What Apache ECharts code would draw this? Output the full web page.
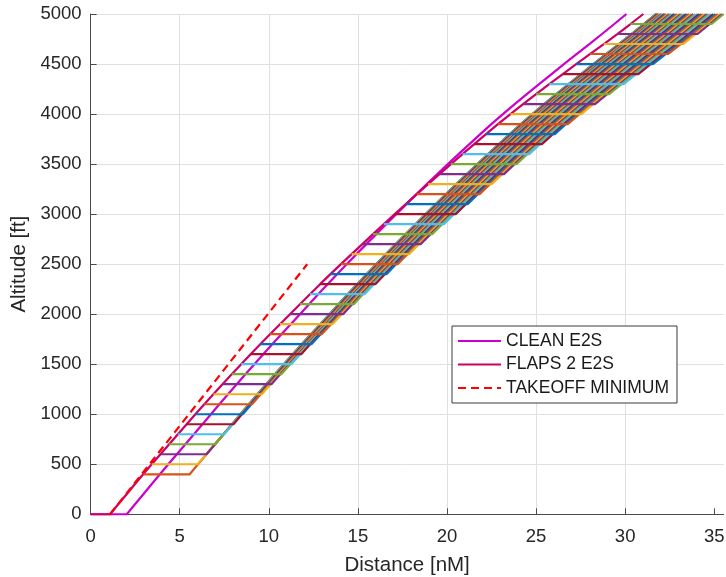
<!DOCTYPE html>
<html>
<head>
<meta charset="utf-8">
<script src="https://cdn.jsdelivr.net/npm/echarts@6/dist/echarts.min.js"></script>
<style>
  html, body { margin: 0; padding: 0; background: #fff; }
  #chart { width: 726px; height: 577px; }
</style>
</head>
<body>
<div id="chart"></div>
<script>
// Altitude steps of the climb profiles [ft]
const climbAlt = [
  0, 100, 200, 300, 400, 500, 600, 700, 800, 900,
  1000, 1100, 1200, 1300, 1400, 1500, 1600, 1700, 1800, 1900,
  2000, 2100, 2200, 2300, 2400, 2500, 2600, 2700, 2800, 2900,
  3000, 3100, 3200, 3300, 3400, 3500, 3600, 3700, 3800, 3900,
  4000, 4100, 4200, 4300, 4400, 4500, 4600, 4700, 4800, 4900,
  5000
];

// FLAPS 2 engine-to-speed climb: distance [nM] at each altitude step
const flapsDist = [
  1.09, 1.55, 2.02, 2.48, 2.95, 3.43, 3.92, 4.41, 4.90, 5.39,
  5.88, 6.38, 6.89, 7.40, 7.92, 8.45, 8.98, 9.52, 10.07, 10.63,
  11.19, 11.75, 12.31, 12.88, 13.46, 14.05, 14.65, 15.25, 15.85, 16.46,
  17.07, 17.69, 18.31, 18.94, 19.58, 20.22, 20.87, 21.53, 22.19, 22.86,
  23.56, 24.27, 25.00, 25.74, 26.50, 27.25, 28.02, 28.80, 29.56, 30.30,
  31.02
];

// CLEAN engine-to-speed climb: distance [nM] at each altitude step
const cleanDist = [
  2.03, 2.49, 2.96, 3.42, 3.89, 4.36, 4.84, 5.32, 5.80, 6.28,
  6.75, 7.23, 7.71, 8.20, 8.69, 9.19, 9.69, 10.19, 10.71, 11.23,
  11.75, 12.26, 12.77, 13.30, 13.83, 14.37, 14.92, 15.47, 16.03, 16.59,
  17.15, 17.72, 18.29, 18.87, 19.46, 20.05, 20.65, 21.26, 21.87, 22.49,
  23.14, 23.80, 24.48, 25.17, 25.87, 26.56, 27.27, 27.99, 28.70, 29.39,
  30.07
];

// Level acceleration segments: altitude [ft] and distance where acceleration ends [nM]
const accelAlt = [
  400, 500, 600, 700, 800, 900, 1000, 1100, 1200, 1300,
  1400, 1500, 1600, 1700, 1800, 1900, 2000, 2100, 2200, 2300,
  2400, 2500, 2600, 2700, 2800, 2900, 3000, 3100, 3200, 3300,
  3400, 3500, 3600, 3700, 3800, 3900, 4000, 4100, 4200, 4300,
  4400, 4500, 4600, 4700, 4800, 4900
];
const accelEnd = [
  5.56, 6.01, 6.50, 6.99, 7.50, 8.02, 8.54, 9.06, 9.61, 10.15,
  10.70, 11.26, 11.82, 12.39, 12.97, 13.57, 14.17, 14.77, 15.37, 15.98,
  16.60, 17.23, 17.87, 18.52, 19.17, 19.83, 20.49, 21.16, 21.83, 22.51,
  23.20, 23.90, 24.61, 25.33, 26.05, 26.78, 27.54, 28.31, 29.10, 29.91,
  30.74, 31.56, 32.40, 33.25, 34.06, 34.85
];

// Takeoff minimum gradient line
const takeoffDist = [1.09, 12.16];
const takeoffAlt = [0, 2500];

// Axis ticks
const xTicks = [0, 5, 10, 15, 20, 25, 30, 35];
const yTicks = [0, 500, 1000, 1500, 2000, 2500, 3000, 3500, 4000, 4500, 5000];

// Default line colour order
const colorOrder = ['#0072BD', '#D95319', '#EDB120', '#7E2F8E', '#77AC30', '#4DBEEE', '#A2142F'];

const FONT = "'Liberation Sans', Arial, Helvetica, sans-serif";
const lineW = 2.2;

const series = [];

// Clean climb, starting with the ground roll
series.push({
  name: 'CLEAN E2S',
  type: 'line',
  data: [[0, 0]].concat(climbAlt.map((a, i) => [cleanDist[i], a])),
  showSymbol: false, symbol: 'none',
  lineStyle: { color: '#CC00CC', width: lineW },
  itemStyle: { color: '#CC00CC' },
  z: 2
});

// Flaps 2 climb, starting with the ground roll
series.push({
  name: 'FLAPS 2 E2S',
  type: 'line',
  data: [[0, 0]].concat(climbAlt.map((a, i) => [flapsDist[i], a])),
  showSymbol: false, symbol: 'none',
  lineStyle: { color: '#CC0066', width: lineW },
  itemStyle: { color: '#CC0066' },
  z: 2
});

// Each path: level off on the flaps profile, accelerate, then climb clean
accelAlt.forEach((h, k) => {
  const i = climbAlt.indexOf(h);
  const pts = [[flapsDist[i], h], [accelEnd[k], h]];
  for (let j = i + 1; j < climbAlt.length; j++) {
    pts.push([accelEnd[k] + cleanDist[j] - cleanDist[i], climbAlt[j]]);
  }
  const c = colorOrder[(h / 100 - 3) % colorOrder.length];
  series.push({
    name: 'accel ' + h,
    type: 'line',
    data: pts,
    showSymbol: false, symbol: 'none',
    lineStyle: { color: c, width: lineW },
    itemStyle: { color: c },
    z: 2
  });
});

series.push({
  name: 'TAKEOFF MINIMUM',
  type: 'line',
  data: takeoffDist.map((d, i) => [d, takeoffAlt[i]]),
  showSymbol: false, symbol: 'none',
  lineStyle: { color: '#FF0000', width: lineW, type: [8, 5] },
  itemStyle: { color: '#FF0000' },
  z: 3
});

const axisColor = '#4a4a4a';
const gridColor = '#e0e0e0';
const textColor = '#262626';

const chart = echarts.init(document.getElementById('chart'), null, { renderer: 'canvas' });
chart.setOption({
  animation: false,
  backgroundColor: '#ffffff',
  textStyle: { fontFamily: FONT },
  grid: { left: 90.6, right: 2.3, top: 14, bottom: 62.7, containLabel: false, outerBoundsMode: 'none' },
  legend: {
    data: ['CLEAN E2S', 'FLAPS 2 E2S', 'TAKEOFF MINIMUM'],
    orient: 'vertical',
    left: 452, top: 326,
    padding: [5, 8, 5, 5],
    itemGap: 3.5,
    itemWidth: 43, itemHeight: 14,
    backgroundColor: '#ffffff',
    borderColor: '#3a3a3a', borderWidth: 1, borderRadius: 0,
    selectedMode: false,
    itemStyle: { opacity: 0 },
    textStyle: { fontFamily: FONT, fontSize: 17.5, lineHeight: 20, color: '#1a1a1a' }
  },
  xAxis: {
    type: 'value',
    min: 0, max: 35.53,
    name: 'Distance [nM]',
    nameLocation: 'middle', nameGap: 40.5,
    nameTextStyle: { fontFamily: FONT, fontSize: 20.5, color: textColor },
    axisLine: { show: true, onZero: false, lineStyle: { color: axisColor, width: 1 } },
    axisTick: { show: true, inside: true, length: 6, customValues: xTicks, lineStyle: { color: axisColor } },
    axisLabel: { customValues: xTicks, margin: 13, fontFamily: FONT, fontSize: 18.5, color: textColor,
                 formatter: v => String(v) },
    splitLine: { show: true, showMaxLine: false, lineStyle: { color: gridColor, width: 1 } }
  },
  yAxis: {
    type: 'value',
    min: 0, max: 5000, interval: 500,
    name: 'Altitude [ft]',
    nameLocation: 'middle', nameGap: 58,
    nameTextStyle: { fontFamily: FONT, fontSize: 20.5, color: textColor },
    axisLine: { show: true, onZero: false, lineStyle: { color: axisColor, width: 1 } },
    axisTick: { show: true, inside: true, length: 6, customValues: yTicks, lineStyle: { color: axisColor } },
    axisLabel: { customValues: yTicks, margin: 9, fontFamily: FONT, fontSize: 18.5, color: textColor,
                 formatter: v => String(v) },
    splitLine: { show: true, lineStyle: { color: gridColor, width: 1 } }
  },
  series: series
});
</script>
</body>
</html>
